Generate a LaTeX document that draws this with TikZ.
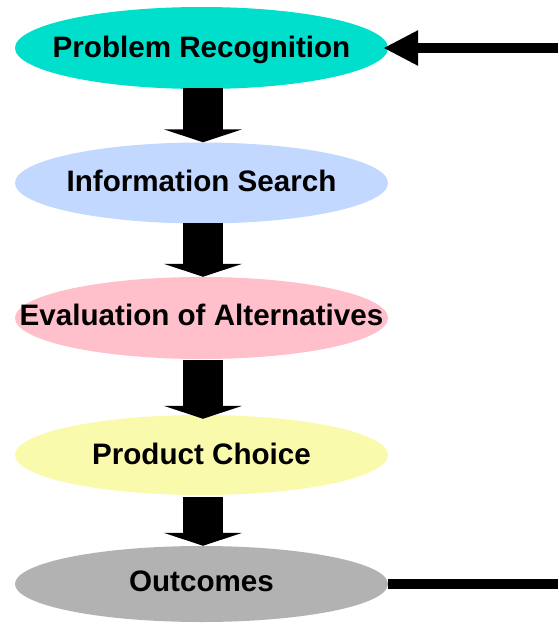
\documentclass[tikz,border=0pt]{standalone}
\usepackage{fontspec}
\setmainfont{Liberation Sans}
\usetikzlibrary{arrows.meta,shapes.geometric}
\definecolor{cteal}{RGB}{0,222,204}
\definecolor{cblue}{RGB}{194,216,255}
\definecolor{cpink}{RGB}{255,192,204}
\definecolor{cyellow}{RGB}{250,250,172}
\definecolor{cgray}{RGB}{178,178,178}
\tikzset{
  stage/.style={ellipse, draw=none, inner sep=0pt, minimum width=373pt},
  stagetext/.style={inner sep=0pt, font=\bfseries\fontsize{29.6}{34}\selectfont, text height=21pt, text depth=0pt},
  blockarrow/.style={line width=40pt, -{Triangle[length=13pt,width=78pt]}},
  fbline/.style={line width=10.5pt},
  fbarrow/.style={line width=10.5pt, -{Triangle[length=35pt,width=33pt]}}
}
\begin{document}
\begin{tikzpicture}[x=1pt,y=-1pt]
\useasboundingbox (0,0) rectangle (558,624);
\node[stage, fill=cteal, minimum height=82pt] (e1) at (201.5,48) {};
\node[stage, fill=cblue, minimum height=81pt] (e2) at (201.5,183) {};
\node[stage, fill=cpink, minimum height=82pt] (e3) at (201.5,318) {};
\node[stage, fill=cyellow, minimum height=80pt] (e4) at (201.5,455) {};
\node[stage, fill=cgray, minimum height=76pt] (e5) at (201.5,584) {};
\node[stagetext] (t1) at ([yshift=1.5pt]e1) {Problem Recognition};
\node[stagetext] (t2) at ([yshift=2pt]e2) {Information Search};
\node[stagetext] (t3) at ([yshift=3pt]e3) {Evaluation of Alternatives};
\node[stagetext] (t4) at ([yshift=1.5pt]e4) {Product Choice};
\node[stagetext] (t5) at ([yshift=3pt]e5) {Outcomes};
\draw[blockarrow] ([xshift=1.5pt,yshift=1pt]e1.south) -- ([xshift=1.5pt]e2.north);
\draw[blockarrow] ([xshift=1.5pt,yshift=1pt]e2.south) -- ([xshift=1.5pt]e3.north);
\draw[blockarrow] ([xshift=1.5pt,yshift=-1pt]e3.south) -- ([xshift=1.5pt,yshift=-4pt]e4.north);
\draw[blockarrow] ([xshift=1.5pt,yshift=-2pt]e4.south) -- ([xshift=1.5pt]e5.north);
\coordinate (fbtop) at (558,48);
\coordinate (fbbot) at (558,584);
\draw[fbline] (e5.east) -- (fbbot);
\draw[fbarrow] (fbtop) -- ([xshift=-5pt]e1.east);
\end{tikzpicture}
\end{document}
